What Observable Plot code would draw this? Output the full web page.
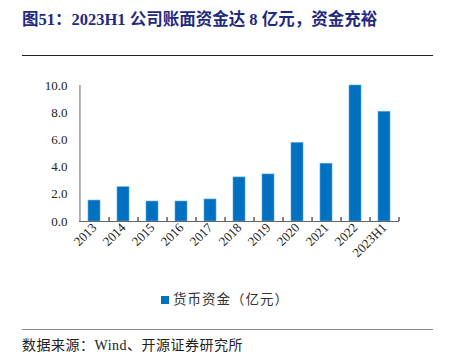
<!DOCTYPE html>
<html><head><meta charset="utf-8">
<script src="https://cdn.jsdelivr.net/npm/d3@7"></script>
<script src="https://cdn.jsdelivr.net/npm/@observablehq/plot@0.6"></script>
<style>
html,body{margin:0;padding:0;background:#fff;width:450px;height:354px;overflow:hidden;position:relative;}
#title{position:absolute;left:22px;top:6px;font:bold 16.5px "Liberation Serif","Noto Sans CJK SC",serif;color:#1F2A80;white-space:nowrap;}
#topline{position:absolute;left:22px;top:55px;width:411px;height:0;border-top:1px solid #222;}
#chart{position:absolute;left:0;top:60px;}
#legend{position:absolute;left:0;width:450px;top:288px;text-align:center;font:13.5px "Noto Sans CJK SC",sans-serif;color:#333;letter-spacing:1px;}
#legend .sw{display:inline-block;width:8px;height:8px;background:#0070C0;margin-right:4px;vertical-align:0px;}
#botline{position:absolute;left:22px;top:329px;width:411px;height:0;border-top:1.5px solid #8a8a8a;}
#source{position:absolute;left:22px;top:338px;line-height:16px;font:14px/16px "Liberation Serif","Noto Sans CJK SC",serif;color:#222;white-space:nowrap;letter-spacing:0.5px;}
</style></head>
<body>
<div id="title">图51：2023H1 公司账面资金达 8 亿元，资金充裕</div>
<div id="topline"></div>
<div id="chart"></div>
<div id="legend"><span class="sw"></span>货币资金（亿元）</div>
<div id="botline"></div>
<div id="source">数据来源：Wind、开源证券研究所</div>
<script>
const categories = ["2013","2014","2015","2016","2017","2018","2019","2020","2021","2022","2023H1"];
const cash = [1.54, 2.52, 1.47, 1.47, 1.62, 3.24, 3.46, 5.78, 4.25, 10.0, 8.07];
const yTicks = [0, 2, 4, 6, 8, 10];

const data = categories.map((c, i) => ({year: c, value: cash[i]}));
const W = 450, ml = 79, mr = 51;
const bw = (W - ml - mr) / categories.length;

const chart = Plot.plot({
  width: W,
  height: 222,
  marginLeft: ml,
  marginRight: mr,
  marginTop: 25,
  marginBottom: 61,
  style: {fontFamily: "'Liberation Serif', serif", fontSize: "13px", color: "#222", background: "transparent"},
  x: {domain: categories, paddingInner: 0.6, paddingOuter: 0.3, align: 0.5},
  y: {domain: [0, 10]},
  marks: [
    Plot.barY(data, {x: "year", y: "value", fill: "#0070C0", stroke: "#5fa8e0", strokeWidth: 0.6}),
    Plot.axisY({ticks: yTicks, tickFormat: d => d.toFixed(1), tickSize: 0, tickPadding: 12, label: null, fontSize: 13}),
    Plot.axisX({tickSize: 0, tickRotate: -45, tickPadding: 4, label: null, fontSize: 13}),
    Plot.axisX({tickSize: 4, text: null, label: null, dx: bw * 0.5, dy: -4, stroke: "#333", strokeWidth: 1.2}),
    Plot.ruleX([categories[0]], {dx: -bw * 0.5, y1: 0, y2: 10, stroke: "#666", strokeWidth: 1}),
    Plot.ruleY([0], {stroke: "#666", strokeWidth: 1.2})
  ]
});
document.getElementById("chart").appendChild(chart);
</script>
</body></html>
